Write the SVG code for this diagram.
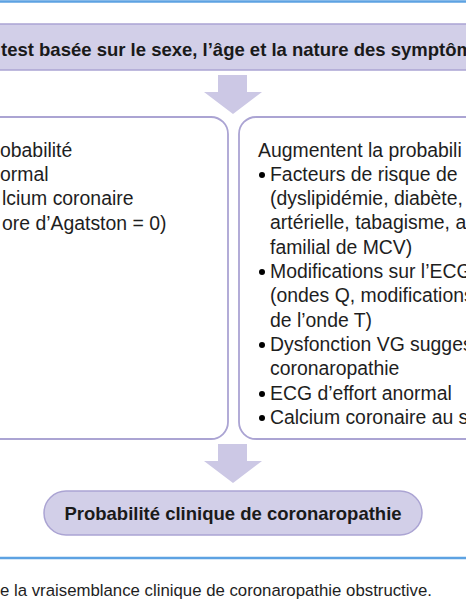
<svg xmlns="http://www.w3.org/2000/svg" width="466" height="600" viewBox="0 0 466 600">
<style>
.rule{stroke:#5DA2E2;stroke-width:2.5;fill:none}
.hdr{fill:#D2CFE8;stroke:#ABA4D3;stroke-width:1.5}
.box{fill:#FFFFFF;stroke:#ABA4D3;stroke-width:1.8}
.arr{fill:#CCC8E5}
.b{font-family:"Liberation Sans",Arial,sans-serif;font-weight:bold;font-size:18.5px;fill:#1a1a1a}
.t{font-family:"Liberation Sans",Arial,sans-serif;font-size:19.4px;fill:#1e1e1e}
.c{font-family:"Liberation Sans",Arial,sans-serif;font-size:16.8px;fill:#1e1e1e}
</style>
<rect width="466" height="600" fill="#FFFFFF"/>
<line class="rule" x1="0" y1="1.5" x2="466" y2="1.5"/>
<g id="header">
<rect class="hdr" x="-20" y="24" width="510" height="46"/>
<text class="b" x="1" y="56">test basée sur le sexe, l’âge et la nature des symptôm</text>
</g>
<g id="connectors">
<polygon class="arr" points="218,75 247,75 247,92 262,92 233,114 204,92 218,92"/>
<polygon class="arr" points="218,444 247,444 247,461 262,461 233,483 204,461 218,461"/>
</g>
<g id="left-box">
<rect class="box" x="-30" y="117" width="258" height="322" rx="17"/>
<text class="t" x="0" y="157">obabilité</text>
<text class="t" x="0" y="181">ormal</text>
<text class="t" x="2" y="205">lcium coronaire</text>
<text class="t" x="2" y="230">ore d’Agatston = 0)</text>
</g>
<g id="right-box">
<rect class="box" x="239" y="117" width="260" height="322" rx="17"/>
<text class="t" x="258" y="157">Augmentent la probabili</text>
<circle cx="262" cy="175" r="3"/>
<text class="t" x="270" y="181">Facteurs de risque de</text>
<text class="t" x="270" y="205">(dyslipidémie, diabète,</text>
<text class="t" x="270" y="229">artérielle, tabagisme, a</text>
<text class="t" x="270" y="254">familial de MCV)</text>
<circle cx="262" cy="272" r="3"/>
<text class="t" x="270" y="278">Modifications sur l’ECG</text>
<text class="t" x="270" y="302">(ondes Q, modifications</text>
<text class="t" x="270" y="327">de l’onde T)</text>
<circle cx="262" cy="345" r="3"/>
<text class="t" x="270" y="351">Dysfonction VG sugges</text>
<text class="t" x="270" y="375">coronaropathie</text>
<circle cx="262" cy="394" r="3"/>
<text class="t" x="270" y="400">ECG d’effort anormal</text>
<circle cx="262" cy="418" r="3"/>
<text class="t" x="270" y="424">Calcium coronaire au s</text>
</g>
<g id="result">
<rect class="hdr" x="44" y="491" width="378" height="44" rx="22"/>
<text class="b" x="233" y="520" text-anchor="middle">Probabilité clinique de coronaropathie</text>
</g>
<line class="rule" x1="0" y1="558" x2="466" y2="558"/>
<text class="c" x="0" y="596">e la vraisemblance clinique de coronaropathie obstructive.</text>
</svg>
